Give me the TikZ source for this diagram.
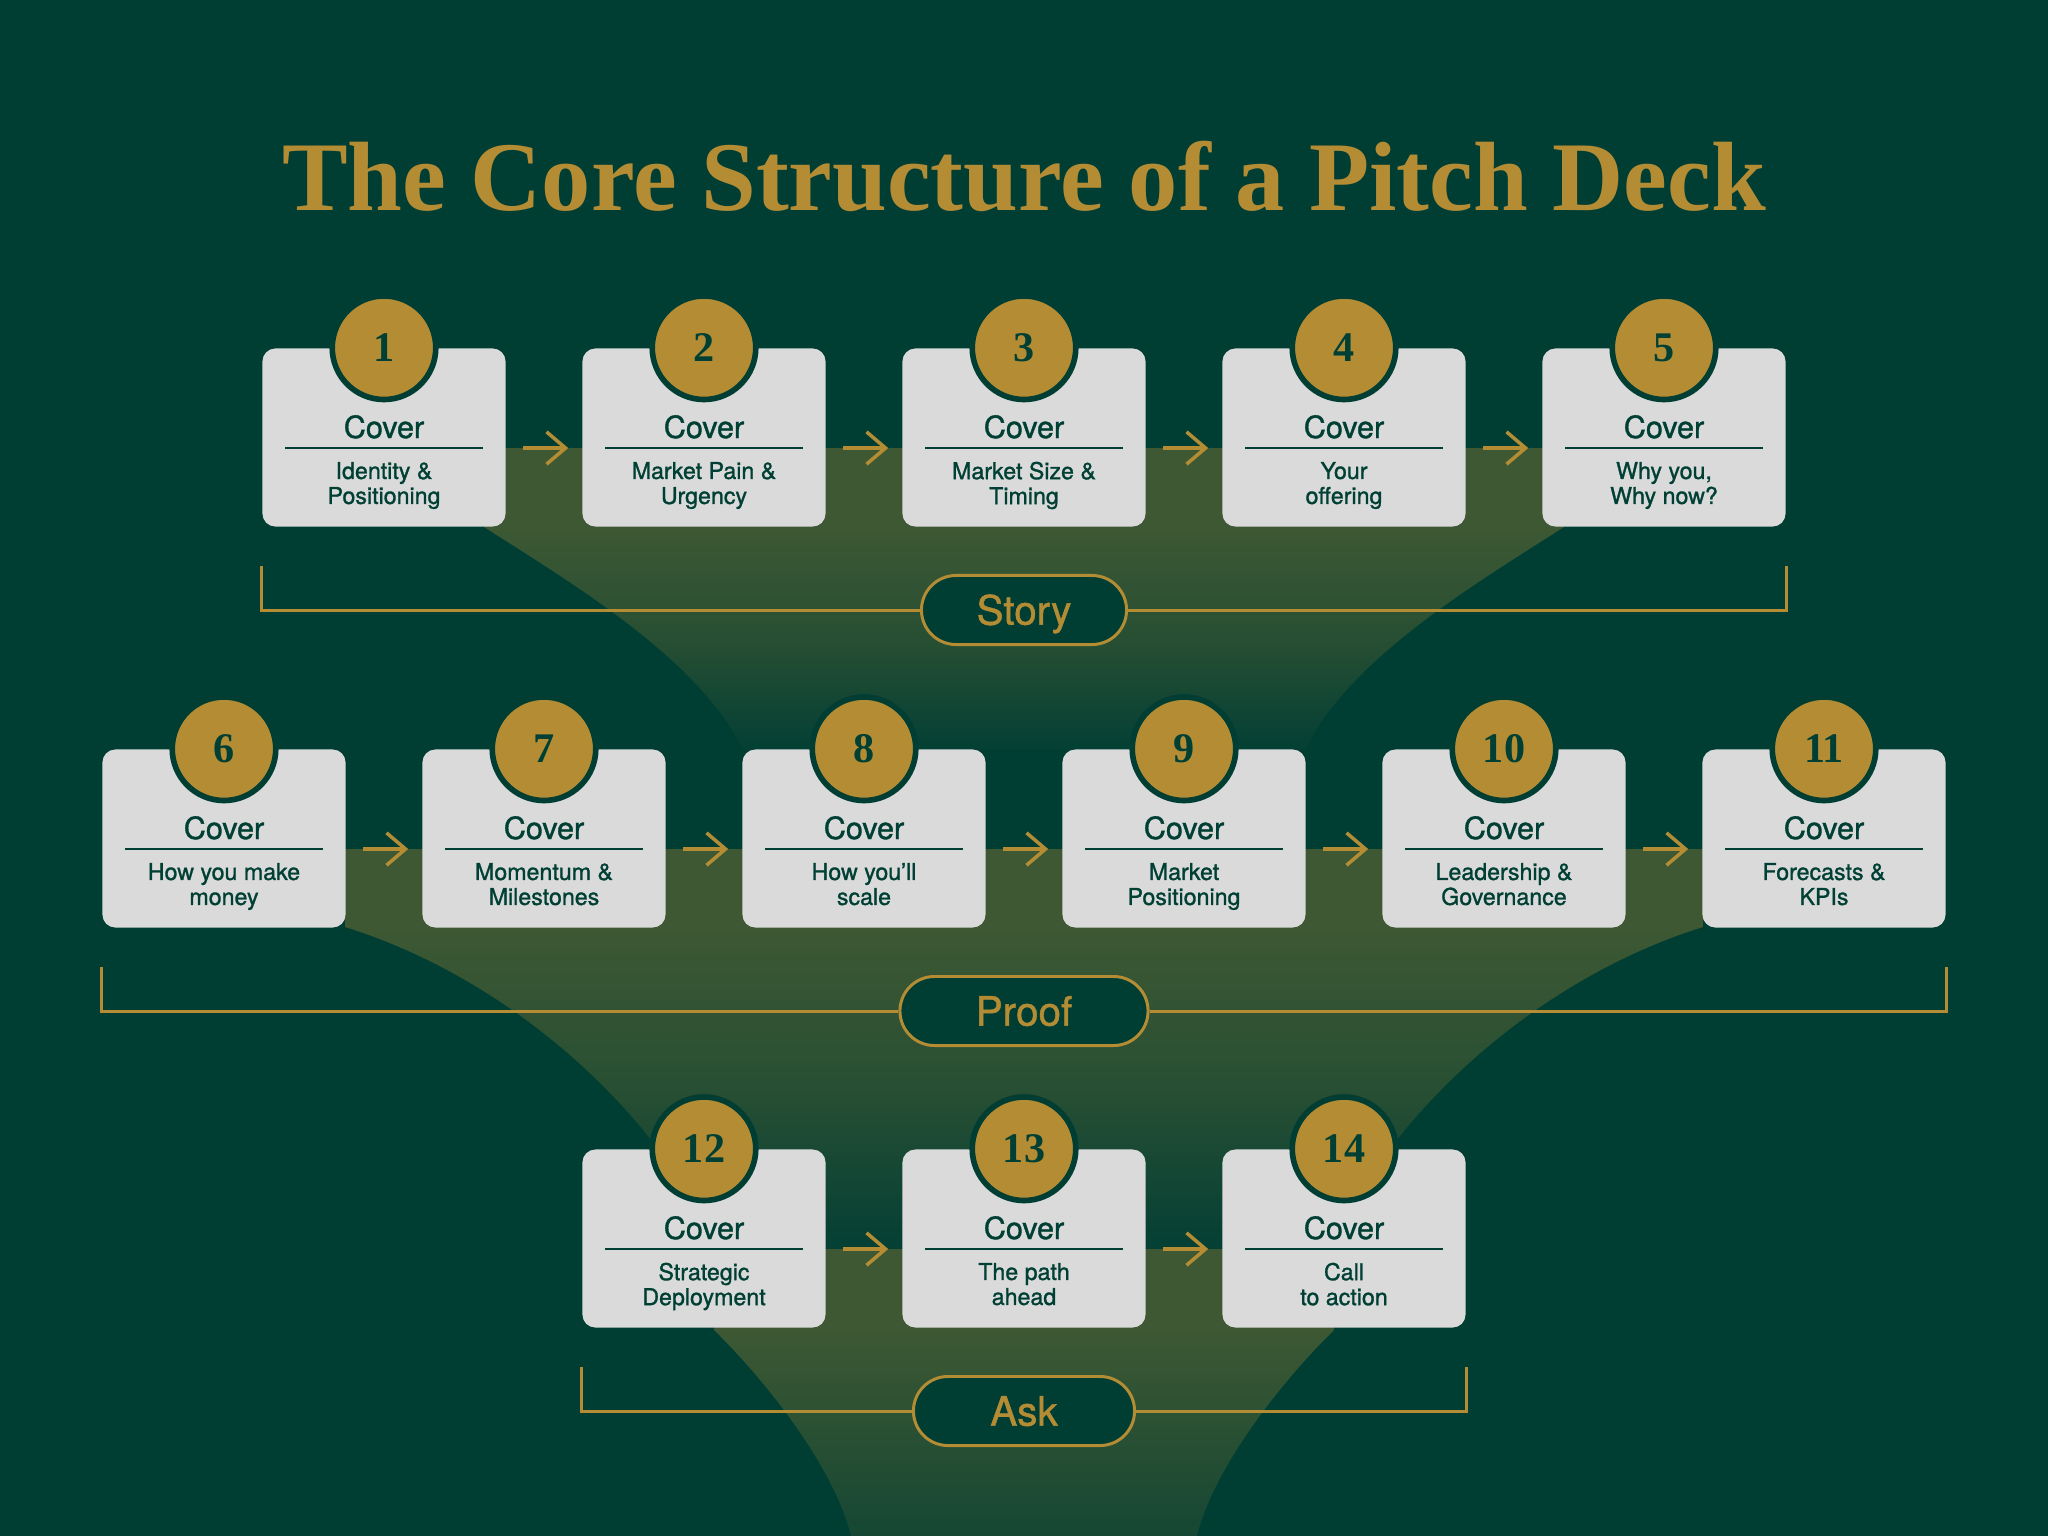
\documentclass[tikz,border=0pt]{standalone}
\usepackage{fontspec}
\usepackage{tikz}
\usetikzlibrary{arrows.meta, shapes.misc}
\newfontfamily\heros{TeX Gyre Heros}[FakeBold=1.2]
\newfontfamily\headserif{Liberation Serif}
\definecolor{bg}{RGB}{0,62,52}
\definecolor{band}{RGB}{61,88,51}
\definecolor{gold}{RGB}{180,140,52}
\definecolor{card}{RGB}{218,218,218}
\definecolor{ink}{RGB}{0,64,52}

\begin{document}
\begin{tikzpicture}[x=0.01cm, y=-0.01cm,
    cardbox/.style={fill=card, rounded corners=0.13cm, minimum width=2.43cm, minimum height=1.78cm, inner sep=0pt},
    numdisc/.style={circle, fill=gold, draw=bg, line width=1.6pt, minimum size=1.035cm, inner sep=0pt, text=ink, font={\headserif\bfseries\fontsize{12pt}{12pt}\selectfont}},
    covertxt/.style={anchor=base, inner sep=0pt, text=ink, font={\heros\fontsize{8.7pt}{10pt}\selectfont}},
    subtxt/.style={align=center, inner sep=0pt, text=ink, font={\heros\fontsize{6.6pt}{7.1pt}\selectfont}},
    divider/.style={ink, line width=0.55pt},
    flow/.style={gold, line width=1pt, -{Straight Barb[length=5.4pt, width=9.2pt, line width=1pt]}, shorten <=0.165cm, shorten >=0.135cm},
    bracket/.style={gold, line width=0.85pt},
    pill/.style={rounded rectangle, draw=gold, fill=bg, line width=0.85pt, minimum height=0.69cm, inner sep=0pt, text height=8.3pt, text depth=0pt, text=gold, font={\heros\fontsize{11.5pt}{12pt}\selectfont}},
    title/.style={anchor=base, text=gold, font={\headserif\bfseries\fontsize{28pt}{30pt}\selectfont}}]

    % Background
    \fill[bg] (0,0) rectangle (2048,1536);

    % Funnel behind the rows
    \fill[band] (484,448) rectangle (1564,527);
    \shade[top color=band, bottom color=band!5!bg, middle color=band!65!bg] (484,527) .. controls (575,585) and (700,660) .. (743,750) -- (1305,750) .. controls (1348,660) and (1473,585) .. (1564,527) -- cycle;
    \fill[band] (345,849) rectangle (1703,927);
    \shade[top color=band, bottom color=band!5!bg, middle color=band!65!bg] (345,927) .. controls (500,975) and (650,1100) .. (720,1250) -- (1328,1250) .. controls (1398,1100) and (1548,975) .. (1703,927) -- cycle;
    \fill[band] (714,1249) rectangle (1334,1330);
    \shade[top color=band, bottom color=band!35!bg] (714,1330) .. controls (770,1385) and (835,1470) .. (851,1536) -- (1197,1536) .. controls (1213,1470) and (1278,1385) .. (1334,1330) -- cycle;

    % Title
    \node[title] (title) at (1024,210) {The Core Structure of a Pitch Deck};

    % Slide cards
    \foreach \n/\x/\y/\la/\lb in {1/384/437.5/{Identity \&}/{Positioning}, 2/704/437.5/{Market Pain \&}/{Urgency},
        3/1024/437.5/{Market Size \&}/{Timing}, 4/1344/437.5/{Your}/{offering}, 5/1664/437.5/{Why you,}/{Why now?},
        6/224/838.5/{How you make}/{money}, 7/544/838.5/{Momentum \&}/{Milestones}, 8/864/838.5/{How you’ll}/{scale},
        9/1184/838.5/{Market}/{Positioning}, 10/1504/838.5/{Leadership \&}/{Governance}, 11/1824/838.5/{Forecasts \&}/{KPIs},
        12/704/1238.5/{Strategic}/{Deployment}, 13/1024/1238.5/{The path}/{ahead}, 14/1344/1238.5/{Call}/{to action}}{
      \node[cardbox] (c\n) at (\x,\y) {};
      \node[numdisc] (n\n) at (c\n.north) {\n};
      \node[covertxt] (t\n) at (\x,\y+0.5) {Cover};
      \draw[divider] ([xshift=0.235cm, yshift=-0.105cm]c\n.west) -- ([xshift=-0.235cm, yshift=-0.105cm]c\n.east);
      \node[subtxt] (s\n) at (\x,\y+48) {\la\\\lb\vphantom{g}};
    }

    % Arrows between slides
    \foreach \a/\b in {1/2, 2/3, 3/4, 4/5, 6/7, 7/8, 8/9, 9/10, 10/11, 12/13, 13/14}
      \draw[flow] ([yshift=-0.105cm]c\a.east) -- ([yshift=-0.105cm]c\b.west);

    % Section brackets
    \node[pill, minimum width=2.05cm] (story) at (1024,610) {Story};
    \draw[bracket] (story.west) -| ([yshift=-0.39cm]c1.south west);
    \draw[bracket] (story.east) -| ([yshift=-0.39cm]c5.south east);
    \node[pill, minimum width=2.48cm] (proof) at (1024,1011) {Proof};
    \draw[bracket] (proof.west) -| ([yshift=-0.39cm]c6.south west);
    \draw[bracket] (proof.east) -| ([yshift=-0.39cm]c11.south east);
    \node[pill, minimum width=2.21cm] (ask) at (1024,1411) {Ask};
    \draw[bracket] (ask.west) -| ([yshift=-0.39cm]c12.south west);
    \draw[bracket] (ask.east) -| ([yshift=-0.39cm]c14.south east);
\end{tikzpicture}
\end{document}
